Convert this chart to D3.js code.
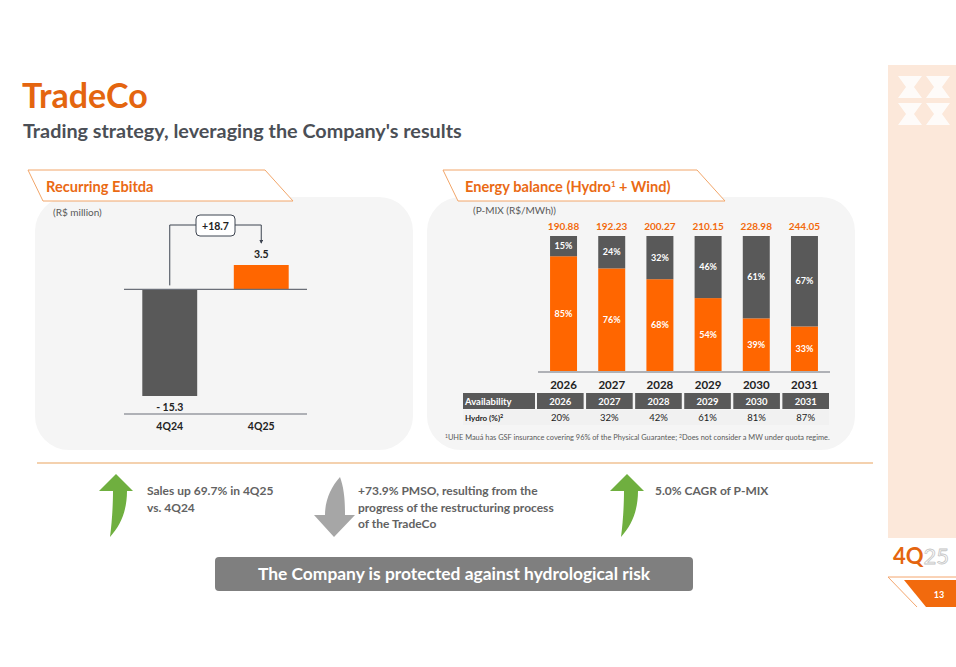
<!DOCTYPE html>
<html>
<head>
<meta charset="utf-8">
<script src="https://cdn.jsdelivr.net/npm/d3@7"></script>
<style>
  body { margin: 0; background: #fff; }
  text { font-family: Lato, "Open Sans", sans-serif; }
</style>
</head>
<body>
<div id="chart"></div>
<script>
// data
var ebitdaPeriods = ['4Q24', '4Q25'];
var ebitdaValues = [-15.3, 3.5];
var ebitdaLabels = ['- 15.3', '3.5'];
var ebitdaChange = '+18.7';

var years = ['2026', '2027', '2028', '2029', '2030', '2031'];
var pmix = [190.88, 192.23, 200.27, 210.15, 228.98, 244.05];
var shareBottom = [85, 76, 68, 54, 39, 33];   // orange part
var shareTop = [15, 24, 32, 46, 61, 67];      // grey part
var hydroAvailability = [20, 32, 42, 61, 81, 87];

var highlights = [
    ['Sales up 69.7% in 4Q25', 'vs. 4Q24'],
    ['+73.9% PMSO, resulting from the', 'progress of the restructuring process', 'of the TradeCo'],
    ['5.0% CAGR of P-MIX']
];

var width = 956, height = 667;
var orange = '#f26a0d', dark = '#595959', textGrey = '#4b4f56';

var svg = d3.select('#chart').append('svg')
    .attr('width', width)
    .attr('height', height);

svg.append('defs').append('marker')
    .attr('id', 'arrow')
    .attr('viewBox', '0 -5 10 10')
    .attr('refX', 8).attr('refY', 0)
    .attr('markerWidth', 4).attr('markerHeight', 4)
    .attr('orient', 'auto')
    .append('path')
    .attr('d', 'M0,-5L10,0L0,5')
    .attr('fill', '#3d4450');

// titles
svg.append('text').attr('x', 22).attr('y', 108)
    .attr('font-size', 34).attr('font-weight', 700).attr('fill', '#e4650f')
    .text('TradeCo');
svg.append('text').attr('x', 23).attr('y', 138)
    .attr('font-size', 19.8).attr('font-weight', 700).attr('fill', textGrey)
    .text("Trading strategy, leveraging the Company's results");

// right sidebar
svg.append('rect').attr('x', 888).attr('y', 65).attr('width', 68).attr('height', 473).attr('fill', '#fce8da');
var logo = svg.append('g').attr('fill', '#fff').attr('opacity', 0.85);
[[898, 76], [926, 76], [898, 103], [926, 103]].forEach(function (p, i) {
    var x = p[0], y = p[1], flip = i % 2 == 0 ? 1 : -1;
    logo.append('path')
        .attr('d', 'M' + x + ',' + y + ' l24,0 l-8,11 l8,11 l-24,0 l8,-11 z')
        .attr('transform', flip < 0 ? 'translate(' + (2 * x + 24) + ',0) scale(-1,1)' : null);
});
svg.append('text').attr('x', 893).attr('y', 564)
    .attr('font-size', 22).attr('font-weight', 700).attr('fill', '#e4650f')
    .text('4Q')
    .append('tspan').attr('fill', '#fff').attr('stroke', '#c4c4c4').attr('stroke-width', 0.8)
    .attr('font-weight', 400).text('25');
svg.append('line').attr('x1', 888).attr('y1', 577).attr('x2', 956).attr('y2', 577).attr('stroke', '#f4a66e');
svg.append('line').attr('x1', 888).attr('y1', 577).attr('x2', 917).attr('y2', 607).attr('stroke', '#f4a66e');
svg.append('path').attr('d', 'M904,580 L956,580 L956,607 L926,607 Z').attr('fill', orange);
svg.append('text').attr('x', 939).attr('y', 598).attr('text-anchor', 'middle')
    .attr('font-size', 9).attr('font-weight', 700).attr('fill', '#fff').text('13');

// panels
function panel(x, w) {
    svg.append('rect').attr('x', x).attr('y', 197).attr('width', w).attr('height', 253)
        .attr('rx', 34).attr('fill', '#f5f5f5');
}
panel(35, 378);
panel(427, 428);

function header(x0, w, tx, label, suffix) {
    svg.append('path')
        .attr('d', 'M' + x0 + ',170 L' + (x0 + w) + ',170 L' + (x0 + w + 28) + ',201 L' + (x0 + 15) + ',201 Z')
        .attr('fill', '#fff').attr('stroke', '#f2a66a').attr('stroke-width', 1);
    var t = svg.append('text').attr('x', tx).attr('y', 192)
        .attr('font-size', 14.6).attr('font-weight', 700).attr('fill', '#ea6a14').text(label);
    if (suffix) suffix(t);
}
header(28, 237, 46, 'Recurring Ebitda');
header(443, 254, 465, 'Energy balance ', function (t) {
    t.append('tspan').text('(Hydro');
    t.append('tspan').attr('font-size', 8).attr('dy', -5).text('1');
    t.append('tspan').attr('dy', 5).text(' + Wind)');
});

// ---- Recurring Ebitda chart
svg.append('text').attr('x', 53).attr('y', 216).attr('font-size', 10).attr('fill', dark).text('(R$ million)');

var xE = d3.scaleBand().domain(ebitdaPeriods).range([124, 307]).paddingInner(0.4).paddingOuter(0.2);
var yE = d3.scaleLinear().domain([-15.3, 3.5]).range([396, 265]);

var ebitda = ebitdaPeriods.map(function (p, i) { return { period: p, value: ebitdaValues[i], label: ebitdaLabels[i] }; });

svg.selectAll('.ebar').data(ebitda).enter().append('rect')
    .attr('class', 'ebar')
    .attr('x', function (d) { return xE(d.period); })
    .attr('y', function (d) { return yE(Math.max(0, d.value)); })
    .attr('width', xE.bandwidth())
    .attr('height', function (d) { return Math.abs(yE(d.value) - yE(0)); })
    .attr('fill', function (d) { return d.value < 0 ? '#595959' : '#ff6600'; });

svg.append('line').attr('x1', 124).attr('x2', 307).attr('y1', yE(0)).attr('y2', yE(0)).attr('stroke', '#6b6f78').attr('stroke-width', 1.2);
svg.append('line').attr('x1', 124).attr('x2', 307).attr('y1', 414).attr('y2', 414).attr('stroke', '#6b6f78').attr('stroke-width', 1.2);

svg.selectAll('.evalue').data(ebitda).enter().append('text')
    .attr('x', function (d) { return xE(d.period) + xE.bandwidth() / 2; })
    .attr('y', function (d) { return d.value < 0 ? yE(d.value) + 15 : yE(d.value) - 7; })
    .attr('text-anchor', 'middle').attr('font-size', 10.5).attr('font-weight', 700).attr('fill', '#222')
    .text(function (d) { return d.label; });

svg.selectAll('.eperiod').data(ebitda).enter().append('text')
    .attr('x', function (d) { return xE(d.period) + xE.bandwidth() / 2; })
    .attr('y', 430)
    .attr('text-anchor', 'middle').attr('font-size', 10.5).attr('font-weight', 700).attr('fill', '#222')
    .text(function (d) { return d.period; });

// change connector
var cx0 = xE(ebitdaPeriods[0]) + xE.bandwidth() / 2,
    cx1 = xE(ebitdaPeriods[1]) + xE.bandwidth() / 2;
svg.append('path')
    .attr('d', d3.line()([[cx0, yE(0) - 4], [cx0, 225], [cx1, 225], [cx1, 243]]))
    .attr('fill', 'none').attr('stroke', '#3d4450').attr('stroke-width', 1)
    .attr('marker-end', 'url(#arrow)');
svg.append('rect').attr('x', (cx0 + cx1) / 2 - 19.5).attr('y', 215).attr('width', 39).attr('height', 21)
    .attr('rx', 4).attr('fill', '#fff').attr('stroke', '#3d4450');
svg.append('text').attr('x', (cx0 + cx1) / 2).attr('y', 229.5).attr('text-anchor', 'middle')
    .attr('font-size', 10.5).attr('font-weight', 700).attr('fill', '#222').text(ebitdaChange);

// ---- Energy balance chart
svg.append('text').attr('x', 473).attr('y', 214).attr('font-size', 10).attr('fill', dark).text('(P-MIX (R$/MWh))');

var energy = years.map(function (y, i) {
    return { year: y, pmix: pmix[i], bottom: shareBottom[i], top: shareTop[i], hydro: hydroAvailability[i] };
});

var xB = d3.scaleBand().domain(years).range([538, 830]).paddingInner(0.44).paddingOuter(0.25);
var yB = d3.scaleLinear().domain([0, 100]).range([371, 236]);

var col = svg.selectAll('.year').data(energy).enter().append('g').attr('class', 'year');
col.append('rect')
    .attr('x', function (d) { return xB(d.year); })
    .attr('y', function (d) { return yB(d.bottom); })
    .attr('width', xB.bandwidth())
    .attr('height', function (d) { return yB(0) - yB(d.bottom); })
    .attr('fill', '#ff6600');
col.append('rect')
    .attr('x', function (d) { return xB(d.year); })
    .attr('y', function (d) { return yB(d.bottom + d.top); })
    .attr('width', xB.bandwidth())
    .attr('height', function (d) { return yB(d.bottom) - yB(d.bottom + d.top); })
    .attr('fill', '#595959');
col.append('text')
    .attr('x', function (d) { return xB(d.year) + xB.bandwidth() / 2; })
    .attr('y', function (d) { return (yB(0) + yB(d.bottom)) / 2 + 3; })
    .attr('text-anchor', 'middle').attr('font-size', 9).attr('font-weight', 700).attr('fill', '#fff')
    .text(function (d) { return d.bottom + '%'; });
col.append('text')
    .attr('x', function (d) { return xB(d.year) + xB.bandwidth() / 2; })
    .attr('y', function (d) { return (yB(d.bottom) + yB(d.bottom + d.top)) / 2 + 3; })
    .attr('text-anchor', 'middle').attr('font-size', 9).attr('font-weight', 700).attr('fill', '#fff')
    .text(function (d) { return d.top + '%'; });
col.append('text')
    .attr('x', function (d) { return xB(d.year) + xB.bandwidth() / 2; })
    .attr('y', yB(100) - 6)
    .attr('text-anchor', 'middle').attr('font-size', 10).attr('font-weight', 700).attr('fill', '#f26a0d')
    .text(function (d) { return d.pmix.toFixed(2); });

var xAxis = svg.append('g').attr('transform', 'translate(0,' + (yB(0) + 1) + ')')
    .call(d3.axisBottom(xB).tickSize(0).tickPadding(9));
xAxis.select('.domain').attr('stroke', '#6b6f78').attr('stroke-width', 1.2).attr('d', 'M538,0H830');
xAxis.selectAll('text').attr('font-size', 11.5).attr('font-weight', 700).attr('fill', '#222')
    .style('font-family', 'Lato, sans-serif');

// availability table
var xT = d3.scaleBand().domain(years).range([537, 829]).paddingInner(0.05);
svg.append('rect').attr('x', 463).attr('y', 393).attr('width', 72).attr('height', 16).attr('fill', '#595959');
svg.append('text').attr('x', 465).attr('y', 405).attr('font-size', 9.5).attr('font-weight', 700).attr('fill', '#fff').text('Availability');
svg.append('rect').attr('x', 463).attr('y', 410).attr('width', 366).attr('height', 15).attr('fill', '#f1f1f1');
var hydroLabel = svg.append('text').attr('x', 465).attr('y', 421).attr('font-size', 8).attr('font-weight', 700).attr('fill', '#222').text('Hydro (%)');
hydroLabel.append('tspan').attr('font-size', 5.5).attr('dy', -3).text('2');

var row = svg.selectAll('.tcell').data(energy).enter().append('g').attr('class', 'tcell');
row.append('rect')
    .attr('x', function (d) { return xT(d.year); }).attr('y', 393)
    .attr('width', xT.bandwidth()).attr('height', 16).attr('fill', '#595959');
row.append('text')
    .attr('x', function (d) { return xT(d.year) + xT.bandwidth() / 2; }).attr('y', 405)
    .attr('text-anchor', 'middle').attr('font-size', 9.5).attr('font-weight', 700).attr('fill', '#fff')
    .text(function (d) { return d.year; });
row.append('text')
    .attr('x', function (d) { return xT(d.year) + xT.bandwidth() / 2; }).attr('y', 421)
    .attr('text-anchor', 'middle').attr('font-size', 9.5).attr('fill', '#222')
    .text(function (d) { return d.hydro + '%'; });

var foot = svg.append('text').attr('x', 445).attr('y', 440).attr('font-size', 7.4).attr('fill', dark);
foot.append('tspan').attr('font-size', 5).attr('dy', -2).text('1');
foot.append('tspan').attr('dy', 2).text('UHE Mauá has GSF insurance covering 96% of the Physical Guarantee; ');
foot.append('tspan').attr('font-size', 5).attr('dy', -2).text('2');
foot.append('tspan').attr('dy', 2).text('Does not consider a MW under quota regime.');

// separator
svg.append('line').attr('x1', 37).attr('x2', 873).attr('y1', 463).attr('y2', 463).attr('stroke', '#e9a35f').attr('stroke-width', 1.2);

// highlight arrows and texts
var upArrow = 'M116,474 L133,491 L127,491 C127,510 121,525 110,537 C112,522 113,505 113,491 L99,491 Z';
var downArrow = 'M340,477 C344,488 345,500 345,515 L355,515 L334,537 L314,515 L325,515 C325,500 331,487 340,477 Z';
svg.append('path').attr('d', upArrow).attr('fill', '#6faf3f');
svg.append('path').attr('d', upArrow).attr('fill', '#6faf3f').attr('transform', 'translate(511,0)');
svg.append('path').attr('d', downArrow).attr('fill', '#a6a6a6');

var textX = [147, 358, 655];
highlights.forEach(function (lines, i) {
    var t = svg.append('text').attr('x', textX[i]).attr('y', 495)
        .attr('font-size', 12).attr('font-weight', 700).attr('fill', '#626262');
    lines.forEach(function (l, j) {
        t.append('tspan').attr('x', textX[i]).attr('dy', j ? 16.5 : 0).text(l);
    });
});

// bottom banner
svg.append('rect').attr('x', 215).attr('y', 557).attr('width', 478).attr('height', 34).attr('rx', 4).attr('fill', '#7f7f7f');
svg.append('text').attr('x', 454).attr('y', 580).attr('text-anchor', 'middle')
    .attr('font-size', 17.4).attr('font-weight', 700).attr('fill', '#fff')
    .text('The Company is protected against hydrological risk');
</script>
</body>
</html>
